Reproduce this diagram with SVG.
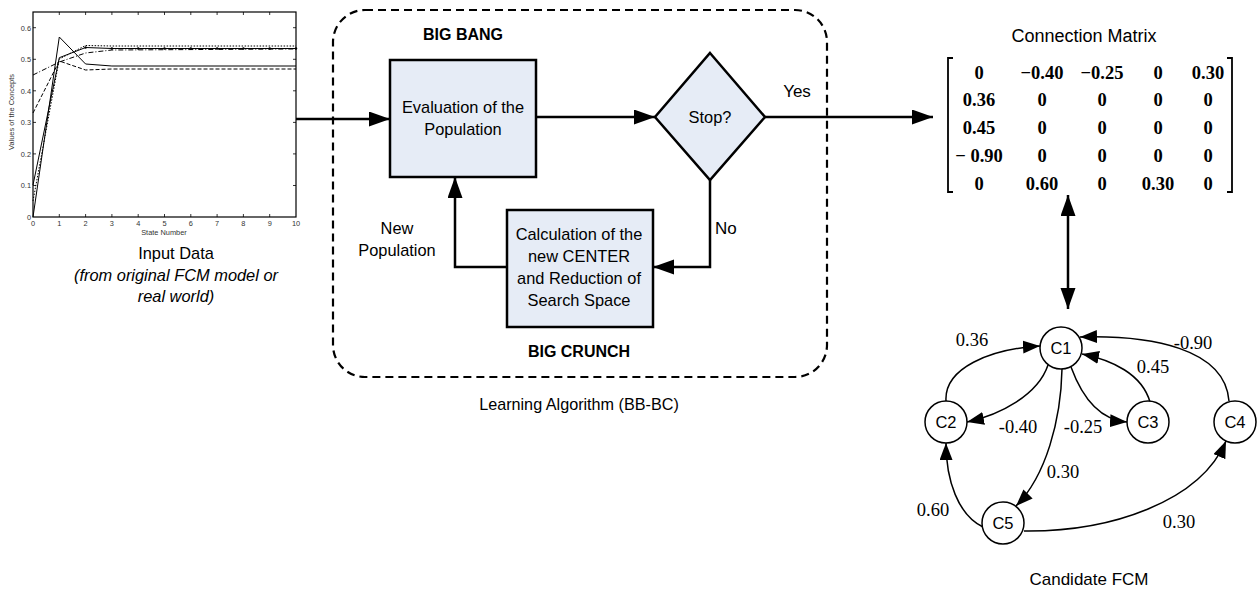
<svg xmlns="http://www.w3.org/2000/svg" width="1257" height="597" viewBox="0 0 1257 597">
<style>
.sans{font-family:"Liberation Sans",Arial,sans-serif;fill:#000}
.lbl{font-size:16.4px;text-anchor:middle}
.bold{font-weight:bold;font-size:16px;text-anchor:middle}
.serif{font-family:"Liberation Serif","Times New Roman",serif;fill:#000}
.mx{font-size:18.5px;font-weight:bold;text-anchor:middle}
.wt{font-size:18.5px;text-anchor:middle}
.tk{font-family:"Liberation Sans",Arial,sans-serif;font-size:7.4px;fill:#333}
.box{fill:#e6ecf6;stroke:#000;stroke-width:2.5}
.flow{fill:none;stroke:#000;stroke-width:2.5}
.edge{fill:none;stroke:#000;stroke-width:1.5;marker-end:url(#ah)}
.node circle{fill:#fff;stroke:#000;stroke-width:1.5}
.nl{font-size:16.5px;text-anchor:middle}
.curve{fill:none;stroke:#000;stroke-width:1}
</style>
<defs>
<marker id="fa" markerUnits="userSpaceOnUse" markerWidth="22" markerHeight="16" refX="21" refY="7.5" orient="auto">
<path d="M0,0 L21,7.5 L0,15 z" fill="#000"/>
</marker>
<marker id="fs" markerUnits="userSpaceOnUse" markerWidth="22" markerHeight="16" refX="21" refY="7.5" orient="auto-start-reverse">
<path d="M0,0 L21,7.5 L0,15 z" fill="#000"/>
</marker>
<marker id="ah" markerUnits="userSpaceOnUse" markerWidth="18" markerHeight="14" refX="17" refY="6.5" orient="auto">
<path d="M0,0 L17,6.5 L0,13 z" fill="#000"/>
</marker>
</defs>

<!-- Plot -->
<g id="plot">
<rect x="33" y="12" width="263" height="205" fill="#fff" stroke="#000" stroke-width="1.2"/>
<g stroke="#000" stroke-width="0.8">
<path d="M59.3,217v-3M85.6,217v-3M111.9,217v-3M138.2,217v-3M164.5,217v-3M190.8,217v-3M217.1,217v-3M243.4,217v-3M269.7,217v-3"/>
<path d="M59.3,12v3M85.6,12v3M111.9,12v3M138.2,12v3M164.5,12v3M190.8,12v3M217.1,12v3M243.4,12v3M269.7,12v3"/>
<path d="M33,185.5h3M33,153.9h3M33,122.4h3M33,90.8h3M33,59.3h3M33,27.7h3"/>
<path d="M296,185.5h-3M296,153.9h-3M296,122.4h-3M296,90.8h-3M296,59.3h-3M296,27.7h-3"/>
</g>
<path class="curve" d="M33,217 L59.3,37 L85.6,64 L111.9,66 L296,66"/>
<path class="curve" d="M33,185 L59.3,57.7 L85.6,47.5 L111.9,48.5 L296,48.5"/>
<path class="curve" stroke-dasharray="4,2" d="M33,113 L59.3,61 L85.6,70 L111.9,69 L296,69"/>
<path class="curve" stroke-dasharray="5,2,1,2" d="M33,75 L59.3,62 L85.6,53 L111.9,50 L296,49"/>
<path class="curve" stroke-dasharray="1.5,1.5" stroke-width="1.3" d="M33,201 L59.3,59 L85.6,45.5 L111.9,46 L296,46"/>
<g fill="#000">
<circle cx="85.6" cy="47.5" r="1.2"/><circle cx="111.9" cy="48.5" r="1.2"/><circle cx="138.2" cy="48.5" r="1.2"/><circle cx="164.5" cy="48.5" r="1.2"/><circle cx="190.8" cy="48.5" r="1.2"/><circle cx="217.1" cy="48.5" r="1.2"/><circle cx="243.4" cy="48.5" r="1.2"/><circle cx="269.7" cy="48.5" r="1.2"/><circle cx="296" cy="48.5" r="1.2"/>
</g>
<g class="tk" text-anchor="end">
<text x="31" y="219.5">0</text><text x="31" y="188">0.1</text><text x="31" y="156.5">0.2</text><text x="31" y="125">0.3</text><text x="31" y="93.5">0.4</text><text x="31" y="62">0.5</text><text x="31" y="30.5">0.6</text>
</g>
<g class="tk" text-anchor="middle">
<text x="33" y="226">0</text><text x="59.3" y="226">1</text><text x="85.6" y="226">2</text><text x="111.9" y="226">3</text><text x="138.2" y="226">4</text><text x="164.5" y="226">5</text><text x="190.8" y="226">6</text><text x="217.1" y="226">7</text><text x="243.4" y="226">8</text><text x="269.7" y="226">9</text><text x="296" y="226">10</text>
<text x="164" y="235">State Number</text>
<text transform="translate(14,112) rotate(-90)">Values of the Concepts</text>
</g>
<text class="sans lbl" x="176" y="259">Input Data</text>
<text class="sans lbl" x="176" y="281" font-style="italic">(from original FCM model or</text>
<text class="sans lbl" x="176" y="302" font-style="italic">real world)</text>
</g>

<!-- Learning algorithm container -->
<g id="container">
<rect x="333" y="10" width="494" height="367" rx="32" ry="32" fill="none" stroke="#000" stroke-width="2.2" stroke-dasharray="8,5"/>
<text class="sans bold" x="463" y="40">BIG BANG</text>
<text class="sans bold" x="579" y="357">BIG CRUNCH</text>
<text class="sans" x="579" y="410" font-size="16.2" text-anchor="middle">Learning Algorithm (BB-BC)</text>
</g>

<g id="eval">
<rect class="box" x="390" y="60" width="146" height="117"/>
<text class="sans lbl" x="463" y="113">Evaluation of the</text>
<text class="sans lbl" x="463" y="135">Population</text>
</g>

<g id="stop">
<polygon class="box" points="710,53 765,117 710,180 655,117"/>
<text class="sans lbl" x="710" y="123">Stop?</text>
</g>

<g id="calc">
<rect class="box" x="507" y="210" width="146" height="117"/>
<text class="sans lbl" x="579" y="240">Calculation of the</text>
<text class="sans lbl" x="579" y="262">new CENTER</text>
<text class="sans lbl" x="579" y="284">and Reduction of</text>
<text class="sans lbl" x="579" y="306">Search Space</text>
</g>

<g id="matrix">
<text class="sans" x="1084" y="42" font-size="18" text-anchor="middle">Connection Matrix</text>
<path d="M953,58 H948 V192 H953 M1227,58 H1232 V192 H1227" fill="none" stroke="#000" stroke-width="1.8"/>
<g class="serif mx">
<text x="979" y="79">0</text><text x="1042" y="79">−0.40</text><text x="1102" y="79">−0.25</text><text x="1158" y="79">0</text><text x="1208" y="79">0.30</text>
<text x="979" y="106">0.36</text><text x="1042" y="106">0</text><text x="1102" y="106">0</text><text x="1158" y="106">0</text><text x="1208" y="106">0</text>
<text x="979" y="134">0.45</text><text x="1042" y="134">0</text><text x="1102" y="134">0</text><text x="1158" y="134">0</text><text x="1208" y="134">0</text>
<text x="979" y="162">− 0.90</text><text x="1042" y="162">0</text><text x="1102" y="162">0</text><text x="1158" y="162">0</text><text x="1208" y="162">0</text>
<text x="979" y="190">0</text><text x="1042" y="190">0.60</text><text x="1102" y="190">0</text><text x="1158" y="190">0.30</text><text x="1208" y="190">0</text>
</g>
</g>

<g id="connectors">
<path class="flow" marker-end="url(#fa)" d="M296,119 H390"/>
<path class="flow" marker-end="url(#fa)" d="M536,117 H655"/>
<path class="flow" marker-end="url(#fa)" d="M765,117 H933"/>
<path class="flow" marker-end="url(#fa)" d="M710,180 V267 H653"/>
<path class="flow" marker-end="url(#fa)" d="M507,267 H455 V177"/>
<path class="flow" marker-start="url(#fs)" marker-end="url(#fs)" d="M1068,195 V309"/>
<text class="sans" x="797" y="97" font-size="17" text-anchor="middle">Yes</text>
<text class="sans" x="715" y="234" font-size="17">No</text>
<text class="sans lbl" x="397" y="234">New</text>
<text class="sans lbl" x="397" y="256">Population</text>

<path class="edge" d="M946,401 C944,368 990,349 1040,346"/>
<path class="edge" d="M1048,365 C1038,395 1000,415 967,422"/>
<path class="edge" d="M1071,367 C1082,397 1100,420 1127,422"/>
<path class="edge" d="M1150,402 C1142,374 1112,360 1082,354"/>
<path class="edge" d="M1229,401 C1225,348 1150,335 1080,337"/>
<path class="edge" d="M1062,369 C1061,420 1046,476 1016,506"/>
<path class="edge" d="M983,527 C958,515 946,480 946,443"/>
<path class="edge" d="M1024,531 C1110,532 1200,502 1226,441"/>
<g class="serif wt">
<text x="972" y="346">0.36</text>
<text x="1018" y="433">-0.40</text>
<text x="1083" y="433">-0.25</text>
<text x="1153" y="373">0.45</text>
<text x="1193" y="349">-0.90</text>
<text x="1063" y="478">0.30</text>
<text x="933" y="516">0.60</text>
<text x="1179" y="528">0.30</text>
</g>
</g>

<g id="C1" class="node"><circle cx="1061" cy="348" r="21"/><text class="sans nl" x="1061" y="354">C1</text></g>
<g id="C2" class="node"><circle cx="946" cy="422" r="21"/><text class="sans nl" x="946" y="428">C2</text></g>
<g id="C3" class="node"><circle cx="1148" cy="422" r="21"/><text class="sans nl" x="1148" y="428">C3</text></g>
<g id="C4" class="node"><circle cx="1235" cy="422" r="21"/><text class="sans nl" x="1235" y="428">C4</text></g>
<g id="C5" class="node"><circle cx="1003" cy="523" r="21"/><text class="sans nl" x="1003" y="529">C5</text></g>
<text class="sans" x="1089" y="585" font-size="17" text-anchor="middle">Candidate FCM</text>
</svg>
